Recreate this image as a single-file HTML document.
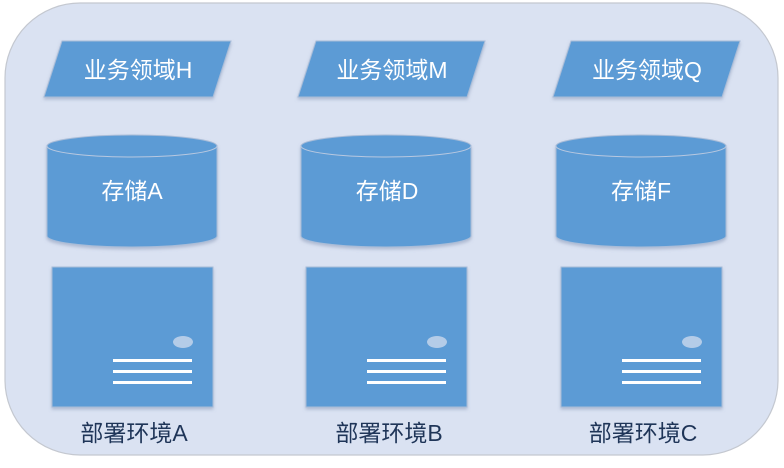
<!DOCTYPE html>
<html><head><meta charset="utf-8"><style>
body{margin:0;background:#fff;width:784px;height:463px;overflow:hidden}
text{font-family:"Liberation Sans","Noto Sans CJK SC",sans-serif;font-size:23px}
</style></head><body>
<svg width="784" height="463" viewBox="0 0 784 463">
<defs><filter id="s" x="-10%" y="-10%" width="120%" height="130%"><feDropShadow dx="0" dy="2" stdDeviation="1.5" flood-color="#8090b0" flood-opacity="0.5"/></filter>
<g id="col">
<polygon points="62,41 231,41 213,97 44,97" fill="#5b9bd5" stroke="#a8bcd8" stroke-width="1" filter="url(#s)"/>
<path d="M47,146 L47,236 A85,11 0 0 0 217,236 L217,146 A85,11 0 0 0 47,146 Z" fill="#5b9bd5" stroke="#a8bcd8" filter="url(#s)"/>
<path d="M47,146 A85,11 0 0 0 217,146" fill="none" stroke="#b8c8e0"/>
<rect x="52" y="267" width="161" height="140" fill="#5b9bd5" stroke="#a8bcd8" filter="url(#s)"/>
<ellipse cx="183" cy="342" rx="10" ry="6" fill="#b4cce8"/>
<rect x="113" y="359" width="79" height="3" fill="#fff"/>
<rect x="113" y="370" width="79" height="3" fill="#fff"/>
<rect x="113" y="381" width="79" height="3" fill="#fff"/>
</g></defs>
<rect x="5" y="3" width="773" height="452" rx="75" fill="#dae2f2" stroke="#c4c8d0" stroke-width="1.2"/>
<use href="#col"/>
<use href="#col" x="254"/>
<use href="#col" x="509"/>
<g fill="#fff" text-anchor="middle">
<text x="138" y="78">业务领域H</text>
<text x="392" y="78">业务领域M</text>
<text x="647" y="78">业务领域Q</text>
<text x="132" y="199">存储A</text>
<text x="387" y="199">存储D</text>
<text x="641" y="199">存储F</text>
</g>
<g fill="#1f3558" text-anchor="middle">
<text x="134" y="441">部署环境A</text>
<text x="389" y="441">部署环境B</text>
<text x="643" y="441">部署环境C</text>
</g>
</svg>
</body></html>
